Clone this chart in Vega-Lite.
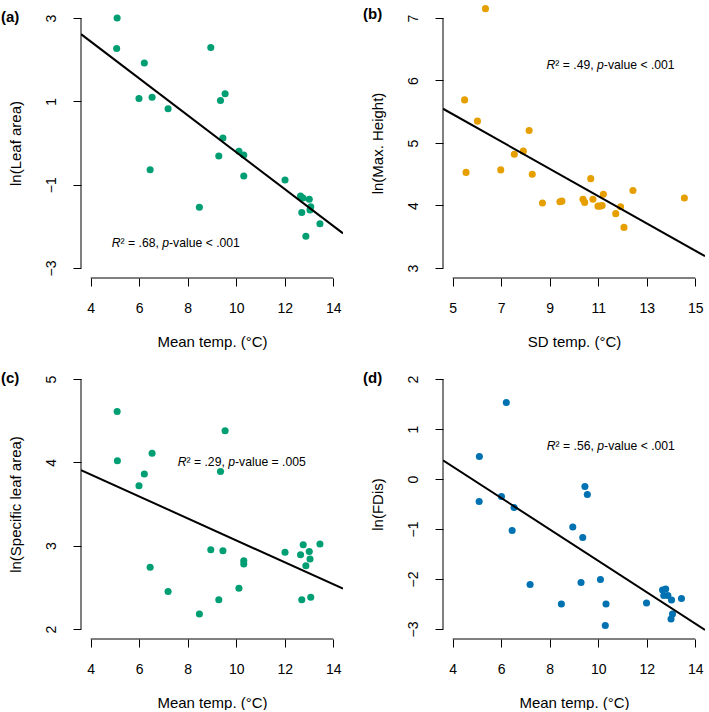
{
  "$schema": "https://vega.github.io/schema/vega-lite/v6.json",
  "padding": {"left": 1, "top": 5, "right": 0, "bottom": 0},
  "background": "white",
  "config": {
    "font": "Liberation Sans",
    "view": {"stroke": null},
    "axis": {"domain": false, "grid": false, "ticks": true, "tickSize": 8, "tickColor": "black", "tickWidth": 1,
      "labelFont": "Liberation Sans", "labelFontSize": 14, "labelColor": "black", "labelFlush": false, "labelOverlap": false, "format": "d",
      "titleFont": "Liberation Sans", "titleFontSize": 15, "titleFontWeight": "normal", "titleColor": "black"},
    "axisX": {"labelPadding": 15, "titlePadding": 19},
    "axisY": {"labelAngle": -90, "labelAlign": "center", "labelBaseline": "middle", "labelPadding": 22, "titlePadding": 21},
    "title": {"font": "Liberation Sans", "fontSize": 15, "fontWeight": "bold", "color": "black", "anchor": "start", "frame": "group", "baseline": "top", "dx": -80, "offset": -17},
    "text": {"font": "Liberation Sans", "fontSize": 12.2, "fill": "black", "align": "left", "baseline": "middle"}
  },
  "datasets": {
    "a": [
      {"x": 5.09, "y": 3.0}, {"x": 5.07, "y": 2.27}, {"x": 6.21, "y": 1.92}, {"x": 5.99, "y": 1.07}, {"x": 6.53, "y": 1.10},
      {"x": 7.19, "y": 0.82}, {"x": 6.45, "y": -0.64}, {"x": 8.48, "y": -1.54}, {"x": 8.95, "y": 2.29}, {"x": 9.54, "y": 1.18},
      {"x": 9.35, "y": 1.02}, {"x": 9.45, "y": 0.12}, {"x": 9.28, "y": -0.31}, {"x": 10.11, "y": -0.20}, {"x": 10.31, "y": -0.29},
      {"x": 10.31, "y": -0.79}, {"x": 12.01, "y": -0.89}, {"x": 12.65, "y": -1.27}, {"x": 12.75, "y": -1.32}, {"x": 13.01, "y": -1.35},
      {"x": 13.07, "y": -1.53}, {"x": 13.04, "y": -1.61}, {"x": 12.70, "y": -1.67}, {"x": 13.45, "y": -1.94}, {"x": 12.87, "y": -2.24}
    ],
    "b": [
      {"x": 6.35, "y": 7.15}, {"x": 5.49, "y": 5.69}, {"x": 6.02, "y": 5.35}, {"x": 5.55, "y": 4.53}, {"x": 6.98, "y": 4.57},
      {"x": 7.54, "y": 4.82}, {"x": 7.91, "y": 4.87}, {"x": 8.15, "y": 5.20}, {"x": 8.28, "y": 4.50}, {"x": 8.70, "y": 4.04},
      {"x": 9.42, "y": 4.06}, {"x": 9.50, "y": 4.07}, {"x": 10.37, "y": 4.10}, {"x": 10.44, "y": 4.05}, {"x": 10.69, "y": 4.43},
      {"x": 10.78, "y": 4.10}, {"x": 11.21, "y": 4.18}, {"x": 10.99, "y": 3.99}, {"x": 11.16, "y": 4.00}, {"x": 11.08, "y": 3.99},
      {"x": 11.92, "y": 3.98}, {"x": 11.72, "y": 3.87}, {"x": 12.06, "y": 3.65}, {"x": 12.43, "y": 4.24}, {"x": 14.55, "y": 4.12}
    ],
    "c": [
      {"x": 5.09, "y": 4.61}, {"x": 5.10, "y": 4.02}, {"x": 5.99, "y": 3.72}, {"x": 6.21, "y": 3.86}, {"x": 6.53, "y": 4.11},
      {"x": 6.45, "y": 2.74}, {"x": 7.19, "y": 2.45}, {"x": 8.48, "y": 2.18}, {"x": 8.95, "y": 2.95}, {"x": 9.45, "y": 2.94},
      {"x": 9.35, "y": 3.89}, {"x": 9.54, "y": 4.38}, {"x": 9.28, "y": 2.35}, {"x": 10.11, "y": 2.49}, {"x": 10.31, "y": 2.82},
      {"x": 10.31, "y": 2.78}, {"x": 12.01, "y": 2.92}, {"x": 12.76, "y": 3.01}, {"x": 13.45, "y": 3.02}, {"x": 13.01, "y": 2.93},
      {"x": 12.65, "y": 2.89}, {"x": 13.04, "y": 2.84}, {"x": 12.87, "y": 2.76}, {"x": 12.70, "y": 2.35}, {"x": 13.07, "y": 2.38}
    ],
    "d": [
      {"x": 6.21, "y": 1.53}, {"x": 5.10, "y": 0.45}, {"x": 5.09, "y": -0.45}, {"x": 6.01, "y": -0.35}, {"x": 6.53, "y": -0.57},
      {"x": 6.45, "y": -1.03}, {"x": 7.19, "y": -2.11}, {"x": 8.48, "y": -2.50}, {"x": 8.95, "y": -0.96}, {"x": 9.45, "y": -0.15},
      {"x": 9.55, "y": -0.31}, {"x": 9.36, "y": -1.17}, {"x": 9.29, "y": -2.07}, {"x": 10.09, "y": -2.01}, {"x": 10.32, "y": -2.50},
      {"x": 10.29, "y": -2.93}, {"x": 11.99, "y": -2.48}, {"x": 12.65, "y": -2.22}, {"x": 12.70, "y": -2.33}, {"x": 12.78, "y": -2.20},
      {"x": 12.87, "y": -2.33}, {"x": 13.02, "y": -2.42}, {"x": 13.43, "y": -2.39}, {"x": 13.06, "y": -2.70}, {"x": 13.0, "y": -2.80}
    ],
    "note_a": [{"x": 7.51, "y": -2.4, "s1": "R", "s2": "² = .68, ", "s3": "p", "s4": "-value < .001"}],
    "note_b": [{"x": 11.51, "y": 6.25, "s1": "R", "s2": "² = .49, ", "s3": "p", "s4": "-value < .001"}],
    "note_c": [{"x": 10.23, "y": 4.0, "s1": "R", "s2": "² = .29, ", "s3": "p", "s4": "-value = .005"}],
    "note_d": [{"x": 10.52, "y": 0.66, "s1": "R", "s2": "² = .56, ", "s3": "p", "s4": "-value < .001"}],
    "one": [{}]
  },
  "columns": 2,
  "spacing": {"row": 20, "column": 20},
  "concat": [
    {
      "width": 262, "height": 270,
      "title": {"text": "(a)"},
      "data": {"name": "a"},
      "layer": [
        {"mark": {"type": "point", "filled": true, "size": 50, "opacity": 1, "color": "#009E73"},
         "encoding": {
           "x": {"field": "x", "type": "quantitative", "scale": {"domain": [3.6, 14.4], "nice": false, "zero": false}, "axis": {"title": "Mean temp. (°C)", "values": [4, 6, 8, 10, 12, 14]}},
           "y": {"field": "y", "type": "quantitative", "scale": {"domain": [-3.24, 3.24], "nice": false, "zero": false}, "axis": {"title": "ln(Leaf area)", "values": [-3, -1, 1, 3]}}}},
        {"transform": [{"regression": "y", "on": "x", "extent": [3.6, 14.4]}],
         "mark": {"type": "line", "color": "black", "strokeWidth": 2, "clip": true},
         "encoding": {"x": {"field": "x", "type": "quantitative"}, "y": {"field": "y", "type": "quantitative"}}},
        {"data": {"name": "one"}, "mark": {"type": "rule", "color": "black", "strokeWidth": 1},
         "encoding": {"x": {"datum": 4}, "x2": {"datum": 14}, "y": {"datum": -3.24}}},
        {"data": {"name": "one"}, "mark": {"type": "rule", "color": "black", "strokeWidth": 1},
         "encoding": {"y": {"datum": -3}, "y2": {"datum": 3}, "x": {"datum": 3.6}}},
        {"data": {"name": "note_a"}, "mark": {"type": "text", "fontStyle": "italic", "dx": -64.1},
         "encoding": {"x": {"field": "x", "type": "quantitative"}, "y": {"field": "y", "type": "quantitative"}, "text": {"field": "s1"}}},
        {"data": {"name": "note_a"}, "mark": {"type": "text", "dx": -55.3},
         "encoding": {"x": {"field": "x", "type": "quantitative"}, "y": {"field": "y", "type": "quantitative"}, "text": {"field": "s2"}}},
        {"data": {"name": "note_a"}, "mark": {"type": "text", "fontStyle": "italic", "dx": -13.6},
         "encoding": {"x": {"field": "x", "type": "quantitative"}, "y": {"field": "y", "type": "quantitative"}, "text": {"field": "s3"}}},
        {"data": {"name": "note_a"}, "mark": {"type": "text", "dx": -6.8},
         "encoding": {"x": {"field": "x", "type": "quantitative"}, "y": {"field": "y", "type": "quantitative"}, "text": {"field": "s4"}}}
      ]
    },
    {
      "width": 262, "height": 270,
      "title": {"text": "(b)"},
      "data": {"name": "b"},
      "layer": [
        {"mark": {"type": "point", "filled": true, "size": 50, "opacity": 1, "color": "#E69F00"},
         "encoding": {
           "x": {"field": "x", "type": "quantitative", "scale": {"domain": [4.6, 15.4], "nice": false, "zero": false}, "axis": {"title": "SD temp. (°C)", "values": [5, 7, 9, 11, 13, 15]}},
           "y": {"field": "y", "type": "quantitative", "scale": {"domain": [2.84, 7.16], "nice": false, "zero": false}, "axis": {"title": "ln(Max. Height)", "values": [3, 4, 5, 6, 7]}}}},
        {"transform": [{"regression": "y", "on": "x", "extent": [4.6, 15.4]}],
         "mark": {"type": "line", "color": "black", "strokeWidth": 2, "clip": true},
         "encoding": {"x": {"field": "x", "type": "quantitative"}, "y": {"field": "y", "type": "quantitative"}}},
        {"data": {"name": "one"}, "mark": {"type": "rule", "color": "black", "strokeWidth": 1},
         "encoding": {"x": {"datum": 5}, "x2": {"datum": 15}, "y": {"datum": 2.84}}},
        {"data": {"name": "one"}, "mark": {"type": "rule", "color": "black", "strokeWidth": 1},
         "encoding": {"y": {"datum": 3}, "y2": {"datum": 7}, "x": {"datum": 4.6}}},
        {"data": {"name": "note_b"}, "mark": {"type": "text", "fontStyle": "italic", "dx": -64.1},
         "encoding": {"x": {"field": "x", "type": "quantitative"}, "y": {"field": "y", "type": "quantitative"}, "text": {"field": "s1"}}},
        {"data": {"name": "note_b"}, "mark": {"type": "text", "dx": -55.3},
         "encoding": {"x": {"field": "x", "type": "quantitative"}, "y": {"field": "y", "type": "quantitative"}, "text": {"field": "s2"}}},
        {"data": {"name": "note_b"}, "mark": {"type": "text", "fontStyle": "italic", "dx": -13.6},
         "encoding": {"x": {"field": "x", "type": "quantitative"}, "y": {"field": "y", "type": "quantitative"}, "text": {"field": "s3"}}},
        {"data": {"name": "note_b"}, "mark": {"type": "text", "dx": -6.8},
         "encoding": {"x": {"field": "x", "type": "quantitative"}, "y": {"field": "y", "type": "quantitative"}, "text": {"field": "s4"}}}
      ]
    },
    {
      "width": 262, "height": 270,
      "title": {"text": "(c)"},
      "data": {"name": "c"},
      "layer": [
        {"mark": {"type": "point", "filled": true, "size": 50, "opacity": 1, "color": "#009E73"},
         "encoding": {
           "x": {"field": "x", "type": "quantitative", "scale": {"domain": [3.6, 14.4], "nice": false, "zero": false}, "axis": {"title": "Mean temp. (°C)", "values": [4, 6, 8, 10, 12, 14]}},
           "y": {"field": "y", "type": "quantitative", "scale": {"domain": [1.88, 5.12], "nice": false, "zero": false}, "axis": {"title": "ln(Specific leaf area)", "values": [2, 3, 4, 5]}}}},
        {"transform": [{"regression": "y", "on": "x", "extent": [3.6, 14.4]}],
         "mark": {"type": "line", "color": "black", "strokeWidth": 2, "clip": true},
         "encoding": {"x": {"field": "x", "type": "quantitative"}, "y": {"field": "y", "type": "quantitative"}}},
        {"data": {"name": "one"}, "mark": {"type": "rule", "color": "black", "strokeWidth": 1},
         "encoding": {"x": {"datum": 4}, "x2": {"datum": 14}, "y": {"datum": 1.88}}},
        {"data": {"name": "one"}, "mark": {"type": "rule", "color": "black", "strokeWidth": 1},
         "encoding": {"y": {"datum": 2}, "y2": {"datum": 5}, "x": {"datum": 3.6}}},
        {"data": {"name": "note_c"}, "mark": {"type": "text", "fontStyle": "italic", "dx": -64.1},
         "encoding": {"x": {"field": "x", "type": "quantitative"}, "y": {"field": "y", "type": "quantitative"}, "text": {"field": "s1"}}},
        {"data": {"name": "note_c"}, "mark": {"type": "text", "dx": -55.3},
         "encoding": {"x": {"field": "x", "type": "quantitative"}, "y": {"field": "y", "type": "quantitative"}, "text": {"field": "s2"}}},
        {"data": {"name": "note_c"}, "mark": {"type": "text", "fontStyle": "italic", "dx": -13.6},
         "encoding": {"x": {"field": "x", "type": "quantitative"}, "y": {"field": "y", "type": "quantitative"}, "text": {"field": "s3"}}},
        {"data": {"name": "note_c"}, "mark": {"type": "text", "dx": -6.8},
         "encoding": {"x": {"field": "x", "type": "quantitative"}, "y": {"field": "y", "type": "quantitative"}, "text": {"field": "s4"}}}
      ]
    },
    {
      "width": 262, "height": 270,
      "title": {"text": "(d)"},
      "data": {"name": "d"},
      "layer": [
        {"mark": {"type": "point", "filled": true, "size": 50, "opacity": 1, "color": "#0072B2"},
         "encoding": {
           "x": {"field": "x", "type": "quantitative", "scale": {"domain": [3.6, 14.4], "nice": false, "zero": false}, "axis": {"title": "Mean temp. (°C)", "values": [4, 6, 8, 10, 12, 14]}},
           "y": {"field": "y", "type": "quantitative", "scale": {"domain": [-3.2, 2.2], "nice": false, "zero": false}, "axis": {"title": "ln(FDis)", "values": [-3, -2, -1, 0, 1, 2]}}}},
        {"transform": [{"regression": "y", "on": "x", "extent": [3.6, 14.4]}],
         "mark": {"type": "line", "color": "black", "strokeWidth": 2, "clip": true},
         "encoding": {"x": {"field": "x", "type": "quantitative"}, "y": {"field": "y", "type": "quantitative"}}},
        {"data": {"name": "one"}, "mark": {"type": "rule", "color": "black", "strokeWidth": 1},
         "encoding": {"x": {"datum": 4}, "x2": {"datum": 14}, "y": {"datum": -3.2}}},
        {"data": {"name": "one"}, "mark": {"type": "rule", "color": "black", "strokeWidth": 1},
         "encoding": {"y": {"datum": -3}, "y2": {"datum": 2}, "x": {"datum": 3.6}}},
        {"data": {"name": "note_d"}, "mark": {"type": "text", "fontStyle": "italic", "dx": -64.1},
         "encoding": {"x": {"field": "x", "type": "quantitative"}, "y": {"field": "y", "type": "quantitative"}, "text": {"field": "s1"}}},
        {"data": {"name": "note_d"}, "mark": {"type": "text", "dx": -55.3},
         "encoding": {"x": {"field": "x", "type": "quantitative"}, "y": {"field": "y", "type": "quantitative"}, "text": {"field": "s2"}}},
        {"data": {"name": "note_d"}, "mark": {"type": "text", "fontStyle": "italic", "dx": -13.6},
         "encoding": {"x": {"field": "x", "type": "quantitative"}, "y": {"field": "y", "type": "quantitative"}, "text": {"field": "s3"}}},
        {"data": {"name": "note_d"}, "mark": {"type": "text", "dx": -6.8},
         "encoding": {"x": {"field": "x", "type": "quantitative"}, "y": {"field": "y", "type": "quantitative"}, "text": {"field": "s4"}}}
      ]
    }
  ]
}
